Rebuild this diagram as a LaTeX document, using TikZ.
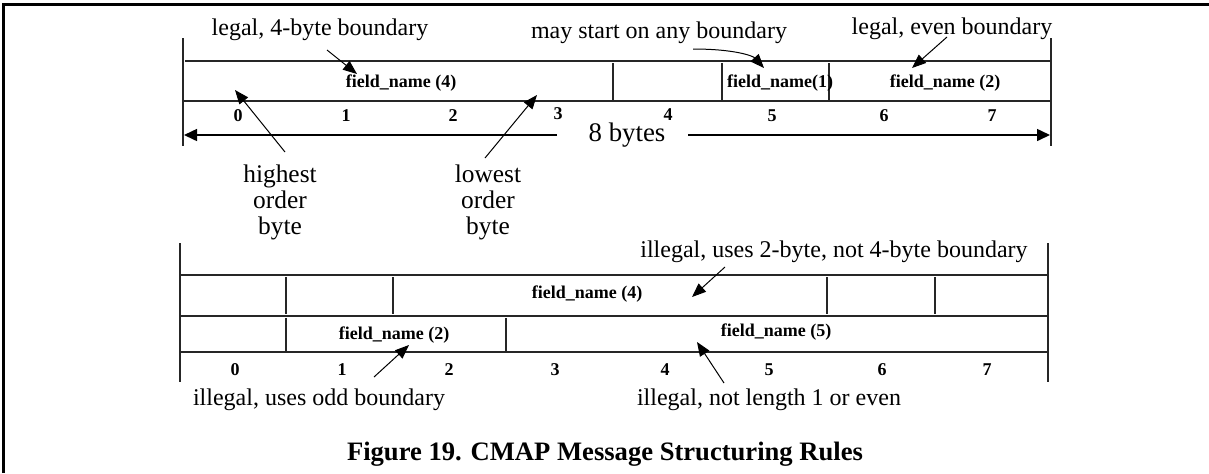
\documentclass[tikz,border=0pt]{standalone}
\usepackage{fontspec}
\setmainfont{Liberation Serif}
\usetikzlibrary{arrows.meta}
\begin{document}
\begin{tikzpicture}[x=0.5pt,y=-0.5pt,
  rule/.style={line width=0.55pt, draw=black!85},
  lbl/.style={font=\fontsize{12}{14}\selectfont, inner sep=0pt, anchor=base},
  biglbl/.style={font=\fontsize{12.7}{13}\selectfont, inner sep=0pt, align=center},
  fld/.style={font=\fontsize{9}{10}\selectfont\bfseries, inner sep=0pt, anchor=base},
  num/.style={font=\fontsize{9}{10}\selectfont\bfseries, inner sep=0pt, anchor=base},
  figcaption/.style={font=\fontsize{13.3}{15}\selectfont\bfseries, inner sep=0pt, anchor=base},
  pointer/.style={-{Triangle[length=7pt,width=5.5pt]}, line width=0.5pt},
  span/.style={-{Triangle[length=6.5pt,width=6pt]}, line width=0.75pt}]
\useasboundingbox (0,0) rectangle (1209,473);

% page frame
\draw[line width=1.5pt] (3.5,473) -- (3.5,4) -- (1209,4);

% ---------- legal layout ----------
\draw[rule] (183,38) -- (183,146);
\draw[rule] (1051,38) -- (1051,146);
\draw[rule] (185,61) -- (1050,61);
\draw[rule] (183,101) -- (1051,101);
\foreach \x in {613,722,829} \draw[rule] (\x,63) -- (\x,100);

\node[fld] (fa4) at (401,87) {field\_name (4)};
\node[fld] (fa1) at (780,87) {field\_name(1)};
\node[fld] (fa2) at (945,87) {field\_name (2)};

\foreach \i/\x/\y in {0/238/121,1/346/121,2/453/121,3/558/119,4/668/120,5/772/121,6/884/121,7/992/121}
  \node[num] (a\i) at (\x,\y) {\i};

\node[biglbl, anchor=base, font=\fontsize{13.4}{14}\selectfont] (eight) at (627,141) {8 bytes};
\coordinate (spanL0) at (557,135);
\coordinate (spanL1) at (184,135);
\coordinate (spanR0) at (688,135);
\coordinate (spanR1) at (1050,135);
\draw[span] (spanL0) -- (spanL1);
\draw[span] (spanR0) -- (spanR1);

\node[lbl] (legal4) at (320,35) {legal, 4-byte boundary};
\node[lbl] (anyb) at (659,38) {may start on any boundary};
\node[lbl] (legaleven) at (952,34) {legal, even boundary};
\node[biglbl] (high) at (280,202) {highest\\order\\byte};
\node[biglbl] (low) at (488,202) {lowest\\order\\byte};

\coordinate (p4s) at (327,50);   \coordinate (p4t) at (357,74);
\coordinate (p1s) at (693,49);   \coordinate (p1t) at (764,68);
\coordinate (p2s) at (947,37);   \coordinate (p2t) at (912,68);
\coordinate (phs) at (285,152);  \coordinate (pht) at (235,90);
\coordinate (pls) at (485,158);  \coordinate (plt) at (537,95);
\draw[pointer] (p4s) -- (p4t);
\draw[pointer] (p1s) .. controls (735,49) and (753,56) .. (p1t);
\draw[pointer] (p2s) -- (p2t);
\draw[pointer] (phs) -- (pht);
\draw[pointer] (pls) -- (plt);

% ---------- illegal layout ----------
\draw[rule] (180,243) -- (180,382);
\draw[rule] (1048,243) -- (1048,382);
\draw[rule] (180,275) -- (1048,275);
\draw[rule] (180,316) -- (1048,316);
\draw[rule] (180,352) -- (1048,352);
\foreach \x in {286,393,827,935} \draw[rule] (\x,277) -- (\x,314);
\foreach \x in {286,506} \draw[rule] (\x,318) -- (\x,351);

\node[fld] (fb4) at (587,298) {field\_name (4)};
\node[fld] (fb2) at (394,339) {field\_name (2)};
\node[fld] (fb5) at (776,336) {field\_name (5)};

\foreach \i/\x in {0/235,1/342,2/449,3/555,4/665,5/769,6/882,7/987}
  \node[num] (b\i) at (\x,375) {\i};

\node[lbl] (twob) at (834,257) {illegal, uses 2-byte, not 4-byte boundary};
\node[lbl] (oddb) at (319,405) {illegal, uses odd boundary};
\node[lbl] (lenb) at (769,405) {illegal, not length 1 or even};

\coordinate (q2s) at (725,267);  \coordinate (q2t) at (692,297);
\coordinate (qos) at (374,377);  \coordinate (qot) at (409,345);
\coordinate (qls) at (724,383);  \coordinate (qlt) at (697,342);
\draw[pointer] (q2s) -- (q2t);
\draw[pointer] (qos) -- (qot);
\draw[pointer] (qls) -- (qlt);

\node[figcaption] (caption) at (605,460) {Figure 19. CMAP Message Structuring Rules};
\end{tikzpicture}
\end{document}
